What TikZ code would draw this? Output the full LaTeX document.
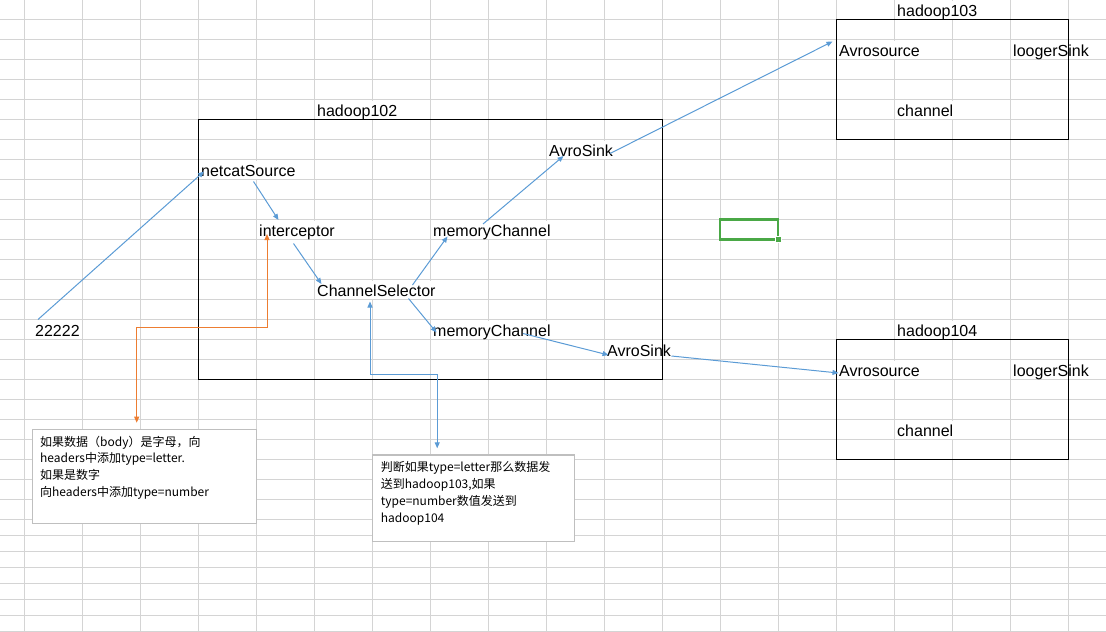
\documentclass[tikz,border=0pt]{standalone}
\usepackage{fontspec}
\setmainfont{Liberation Sans}
\newfontfamily\cjk{Noto Sans CJK SC}
\usetikzlibrary{arrows.meta}

\definecolor{excelblue}{HTML}{5B9BD5}
\definecolor{excelorange}{HTML}{ED7D31}
\definecolor{gridgray}{HTML}{D4D4D4}
\definecolor{notegray}{HTML}{BFBFBF}
\definecolor{selgreen}{RGB}{74,168,70}

\begin{document}
\begin{tikzpicture}[x=1pt,y=-1pt,
    gridline/.style={gridgray,line width=1pt},
    cell/.style={anchor=base west,inner sep=0pt,fill=white,text height=15.5pt,text depth=2pt,font=\fontsize{16}{18}\selectfont},
    hostbox/.style={draw,line width=1pt,anchor=north west,inner sep=0pt},
    notebox/.style={draw=notegray,line width=1.2pt,fill=white,anchor=north west,inner sep=0pt},
    notetext/.style={anchor=base west,inner sep=0pt,font=\cjk\fontsize{12}{14}\selectfont},
    flow/.style={excelblue,line width=1pt,-{Triangle[length=6pt,width=5pt]}},
    twoway/.style={line width=1pt,{Triangle[length=6pt,width=5pt]}-{Triangle[length=6pt,width=5pt]}}]

            \useasboundingbox (0,0) rectangle (1106,632);

            % sheet grid
            \foreach \gx in {0,...,18}
                \draw[gridline] (24.3+58*\gx,0) -- (24.3+58*\gx,632);
            \foreach \gy in {0,...,25}
                \draw[gridline] (0,19.3+20*\gy) -- (1106,19.3+20*\gy);
            \foreach \gy in {1,...,7}
                \draw[gridline] (0,519.3+16*\gy) -- (1106,519.3+16*\gy);

            % hadoop102
            \node[cell] (h102) at (317,116.5) {hadoop102};
            \node[cell] (port) at (35,336.5) {22222};
            \node[cell] (netcat) at (201,176.5) {netcatSource};
            \node[cell] (intcp) at (259,236.5) {interceptor};
            \node[cell] (selector) at (317,296.5) {ChannelSelector};
            \node[cell] (memup) at (433,236.5) {memoryChannel};
            \node[cell] (memlow) at (433,336.5) {memoryChannel};
            \node[cell] (sinkup) at (549,156.5) {AvroSink};
            \node[cell] (sinklow) at (607,356.5) {AvroSink};

            % hadoop103
            \node[cell] (h103) at (897,16.5) {hadoop103};
            \node[cell] (src103) at (839,56.5) {Avrosource};
            \node[cell] (logger103) at (1013,56.5) {loogerSink};
            \node[cell] (ch103) at (897,116.5) {channel};

            % hadoop104
            \node[cell] (h104) at (897,336.5) {hadoop104};
            \node[cell] (src104) at (839,376.5) {Avrosource};
            \node[cell] (logger104) at (1013,376.5) {loogerSink};
            \node[cell] (ch104) at (897,436.5) {channel};

            \node[hostbox,minimum width=464.3pt,minimum height=260pt] (box102) at (198,119.3) {};
            \node[hostbox,minimum width=232pt,minimum height=120pt] (box103) at (836.3,19.3) {};
            \node[hostbox,minimum width=232pt,minimum height=120pt] (box104) at (836.3,339.3) {};

            % notes
            \node[notebox,minimum width=224.3pt,minimum height=94pt] (note1) at (31.7,429) {};
            \node[notetext] (note1a) at (40,446.5) {如果数据（body）是字母，向};
            \node[notetext] (note1b) at (40,462) {headers中添加type=letter.};
            \node[notetext] (note1c) at (40,479.5) {如果是数字};
            \node[notetext] (note1d) at (40,496.5) {向headers中添加type=number};

            \node[notebox,minimum width=202.3pt,minimum height=86.7pt] (note2) at (371.7,454.3) {};
            \node[notetext] (note2a) at (380.7,471.5) {判断如果type=letter那么数据发};
            \node[notetext] (note2b) at (380.7,488.5) {送到hadoop103,如果};
            \node[notetext] (note2c) at (380.7,505.5) {type=number数值发送到};
            \node[notetext] (note2d) at (380.7,522) {hadoop104};

            % data flow
            \draw[flow] ([shift={(3,-17)}]port.base west) -- ([shift={(3,-5)}]netcat.base west);
            \draw[flow] ([shift={(52.5,5)}]netcat.base west) -- ([shift={(19.5,-16.5)}]intcp.base west);
            \draw[flow] ([shift={(34.5,7)}]intcp.base west) -- ([shift={(4.5,-12.5)}]selector.base west);
            \draw[flow] ([shift={(95.5,-11.5)}]selector.base west) -- ([shift={(14.5,0)}]memup.base west);
            \draw[flow] ([shift={(91.5,2)}]selector.base west) -- ([shift={(3.5,-4)}]memlow.base west);
            \draw[flow] ([shift={(50,-12.5)}]memup.base west) -- ([shift={(14.5,-0.5)}]sinkup.base west);
            \draw[flow] ([shift={(61,-3)}]sinkup.base west) -- ([shift={(-6.5,-15)}]src103.base west);
            \draw[flow] ([shift={(90,-3)}]memlow.base west) -- ([shift={(1.5,-1.5)}]sinklow.base west);
            \draw[flow] ([shift={(64.5,-0.5)}]sinklow.base west) -- ([shift={(-0.5,-3.5)}]src104.base west);

            % note links
            \draw[twoway,excelorange] ([shift={(8,-2.5)}]intcp.base west) -- ++(0,93) -| ([shift={(105,-6.3)}]note1.north west);
            \draw[twoway,excelblue] ([shift={(53,5)}]selector.base west) -- ++(0,73) -| ([shift={(65.5,-6)}]note2.north west);

            % selected cell
            \draw[selgreen,line width=2.5pt] (720,219.5) rectangle (778,239.5);
            \fill[selgreen,draw=white,line width=1pt] (775.5,236.5) rectangle (781.5,242.5);
        \end{tikzpicture}
\end{document}
